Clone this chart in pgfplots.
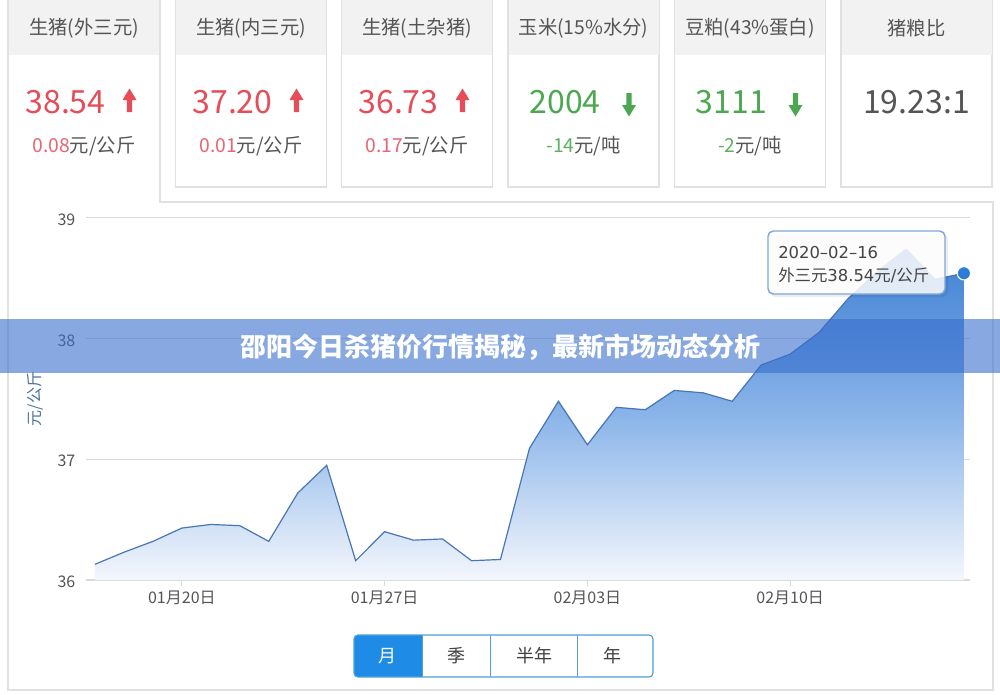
\documentclass[border=0pt]{standalone}
\usepackage{fontspec}
\usepackage{pgfplots}
\usepackage{pgfplotstable}
\pgfplotsset{compat=1.18}
\setmainfont{Noto Sans CJK SC}
\newfontfamily\dv{DejaVu Sans}
\definecolor{redv}{RGB}{229,78,88}
\definecolor{redl}{RGB}{232,100,112}
\definecolor{greenv}{RGB}{76,168,80}
\definecolor{greenl}{RGB}{92,176,96}
\definecolor{txt}{RGB}{85,85,85}
\definecolor{hdr}{RGB}{242,242,242}
\definecolor{bord}{RGB}{225,225,225}
\definecolor{linec}{RGB}{72,118,180}
\definecolor{ftop}{RGB}{62,128,212}
\definecolor{fmid}{RGB}{138,180,233}
\definecolor{fbot}{RGB}{244,247,252}
\definecolor{dotc}{RGB}{45,125,215}
\definecolor{tipb}{RGB}{125,168,215}
\definecolor{ban}{RGB}{55,110,205}
\definecolor{btnb}{RGB}{80,160,215}
\definecolor{btnf}{RGB}{30,139,230}
\definecolor{ylab}{RGB}{80,115,155}
\definecolor{gridc}{RGB}{218,218,218}

\pgfplotstableread{
day price
0 36.13
1 36.23
2 36.32
3 36.43
4 36.46
5 36.45
6 36.32
7 36.72
8 36.95
9 36.16
10 36.40
11 36.33
12 36.34
13 36.16
14 36.17
15 37.09
16 37.48
17 37.12
18 37.43
19 37.41
20 37.57
21 37.55
22 37.48
23 37.78
24 37.87
25 38.05
26 38.33
27 38.55
28 38.74
29 38.49
30 38.54
}\pricedata

% #1 left, #2 header, #3 value, #4 colour, #5 arrow (0 none, 1 up, 2 down), #6 sub number, #7 sub colour, #8 sub unit
\newcommand{\card}[8]{%
  \fill[hdr] (#1+0.5,0) rectangle (#1+150.5,55);
  \node[text=txt, font=\fontsize{14.5pt}{16pt}\selectfont] at (#1+75.5,28) {#2};
  \ifnum#5=0
    \node[text=#4, font=\fontsize{24pt}{26pt}\selectfont] at (#1+75.5,102) {#3};
  \else
    \node[text=#4, font=\fontsize{24pt}{26pt}\selectfont] at (#1+57,102) {#3};
  \fi
  \ifcase#5
  \or
    \fill[#4] (#1+121,88.5) -- (#1+128,100) -- (#1+123.6,100) -- (#1+123.6,112) -- (#1+118.4,112) -- (#1+118.4,100) -- (#1+114,100) -- cycle;
  \or
    \fill[#4] (#1+121,116.5) -- (#1+128,105) -- (#1+123.6,105) -- (#1+123.6,93) -- (#1+118.4,93) -- (#1+118.4,105) -- (#1+114,105) -- cycle;
  \fi
  \node[font=\fontsize{14.5pt}{16pt}\selectfont] at (#1+75.5,146) {\textcolor{#7}{#6}\textcolor{txt}{#8}};
}

\begin{document}
\begin{tikzpicture}
\begin{scope}[x=0.75pt,y=-0.75pt]
\fill[white] (0,0) rectangle (1000,694);
\path[use as bounding box] (0,0) rectangle (1000,694);
% panel + card 1 outline
\draw[bord, line width=0.8pt] (160,-2) -- (160,202) -- (993,202) -- (993,690) -- (8,690) -- (8,-2);
% other cards outlines
\foreach \l in {175.5,341.5,508,674.5,841}{
  \draw[bord, line width=0.8pt, fill=white] (\l,-2) rectangle (\l+151,187);
}
\card{8.5}{生猪(外三元)}{38.54}{redv}{1}{0.08}{redl}{元/公斤}
\card{175.5}{生猪(内三元)}{37.20}{redv}{1}{0.01}{redl}{元/公斤}
\card{341.5}{生猪(土杂猪)}{36.73}{redv}{1}{0.17}{redl}{元/公斤}
\card{508}{玉米(15\%水分)}{2004}{greenv}{2}{-14}{greenl}{元/吨}
\card{674.5}{豆粕(43\%蛋白)}{3111}{greenv}{2}{-2}{greenl}{元/吨}
\card{841}{猪粮比}{19.23:1}{txt}{0}{}{txt}{}
\end{scope}

\begin{axis}[
  at={(64.5pt,-435pt)}, anchor=south west,
  scale only axis, width=663pt, height=271.7pt,
  xmin=-0.31, xmax=30.21, ymin=36, ymax=39,
  axis line style={draw=none},
  ytick={36,37,38,39},
  ymajorgrids, grid style={gridc, line width=0.8pt},
  xtick={3,10,17,24},
  xticklabels={01月20日,01月27日,02月03日,02月10日},
  tick pos=left,
  tick align=outside,
  major tick length=4.5pt,
  xtick style={gridc, line width=0.8pt},
  ytick style={draw=none},
  ticklabel style={font=\fontsize{12pt}{14pt}\selectfont, text=txt},
  yticklabel style={yshift=-1.5pt},
  /pgf/number format/assume math mode=true,
  ylabel={元/公斤},
  ylabel style={at={(axis description cs:-0.0577,0.5)}, anchor=center, font=\fontsize{12pt}{14pt}\selectfont, text=ylab},
]
\addplot[draw=none, top color=ftop, bottom color=fbot, middle color=fmid] table[x=day, y=price] {\pricedata} \closedcycle;
\addplot[linec, line width=0.9pt] table[x=day, y=price] {\pricedata};
\addplot[only marks, mark=*, mark size=5pt, mark options={fill=dotc, draw=white, line width=0.8pt}] coordinates {(30,38.54)};
\end{axis}

\begin{scope}[x=0.75pt,y=-0.75pt]
% tooltip
\fill[black, opacity=0.07, rounded corners=4] (770,234) rectangle (948,297);
\draw[tipb, line width=1.1pt, fill=white, fill opacity=0.85, rounded corners=4] (768,231) rectangle (945,294);
\node[anchor=west, text=txt!80!black, font=\dv\fontsize{12.3pt}{14pt}\selectfont, inner sep=0] at (778,253) {2020–02–16};
\node[anchor=west, text=txt!80!black, font=\fontsize{12.3pt}{14pt}\selectfont, inner sep=0] at (778,275) {外三元{\dv 38.54}元{\dv /}公斤};
% banner
\fill[ban, opacity=0.6] (0,319) rectangle (1000,373);
\node[text=white, font=\bfseries\fontsize{19.5pt}{22pt}\selectfont] at (500,347) {邵阳今日杀猪价行情揭秘，最新市场动态分析};
% buttons
\fill[white] (354,635) rectangle (653,677);
\begin{scope}
\clip[rounded corners=3] (354,635) rectangle (653,677);
\fill[btnf] (354,635) rectangle (422.7,677);
\end{scope}
\draw[btnb, line width=0.9pt, rounded corners=3] (354,635) rectangle (653,677);
\draw[btnb, line width=0.9pt] (422.7,635) -- (422.7,677) (490.7,635) -- (490.7,677) (577.3,635) -- (577.3,677);
\node[text=white, font=\fontsize{13.5pt}{16pt}\selectfont] at (387.5,656) {月};
\node[text=black!75, font=\fontsize{13.5pt}{16pt}\selectfont] at (456.7,656) {季};
\node[text=black!75, font=\fontsize{13.5pt}{16pt}\selectfont] at (534,656) {半年};
\node[text=black!75, font=\fontsize{13.5pt}{16pt}\selectfont] at (612,656) {年};
\end{scope}
\end{tikzpicture}
\end{document}
